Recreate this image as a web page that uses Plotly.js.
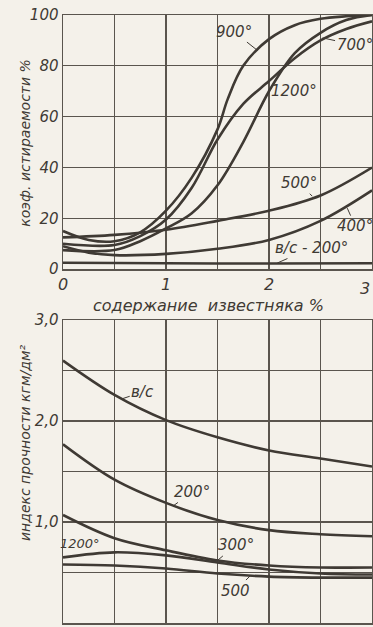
<!DOCTYPE html>
<html><head><meta charset="utf-8">
<script src="https://cdn.plot.ly/plotly-3.0.1.min.js"></script>
<style>html,body{margin:0;padding:0;background:#f4f1ea;}#chart{width:373px;height:627px;}</style>
</head><body><div id="chart"></div>
<script>
// ---- Top chart: abrasion coefficient, % vs limestone content, %
const topX900 = [0, 0.25, 0.5, 0.75, 1.0, 1.25, 1.5, 1.6, 1.75, 2.0, 2.25, 2.5, 2.75, 3.0];
const topY900 = [15, 11.5, 11, 14.5, 23, 36, 55, 67, 80, 90.5, 96, 98.5, 99.5, 100];
const topX700 = [0, 0.5, 0.75, 1.0, 1.25, 1.5, 1.75, 2.0, 2.25, 2.5, 2.75, 3.0];
const topY700 = [10, 9.5, 13, 19.5, 32, 51, 65, 74, 83, 90, 94.5, 97.5];
const topX1200 = [0, 0.5, 0.75, 1.0, 1.25, 1.5, 1.75, 2.0, 2.25, 2.5, 2.75, 3.0];
const topY1200 = [7.5, 7.5, 11, 16, 22, 33, 50, 70, 85, 93, 98, 100];
const topX500 = [0, 0.5, 1.0, 1.5, 2.0, 2.5, 3.0];
const topY500 = [12.5, 13.5, 15.5, 19, 23, 29, 40];
const topX400 = [0, 0.25, 0.5, 1.0, 1.5, 2.0, 2.5, 3.0];
const topY400 = [9, 6.5, 5.5, 6, 8, 11.5, 19, 31];
const topXvc = [0, 1, 2, 3];
const topYvc = [2.5, 2.3, 2.2, 2.3];

// ---- Bottom chart: strength index, kgm/dm2
const botX = [0, 0.5, 1.0, 1.5, 2.0, 2.5, 3.0];
const botYvc = [2.60, 2.26, 2.01, 1.84, 1.71, 1.63, 1.55];
const botY200 = [1.77, 1.42, 1.19, 1.02, 0.92, 0.88, 0.86];
const botY300 = [1.07, 0.84, 0.72, 0.62, 0.57, 0.55, 0.55];
const botY1200 = [0.65, 0.70, 0.67, 0.60, 0.53, 0.49, 0.48];
const botY500 = [0.58, 0.57, 0.54, 0.49, 0.46, 0.45, 0.45];

const xTickVals = [0, 0.5, 1, 1.5, 2, 2.5, 3];
const xTickText = ['0', '', '1', '', '2', '', '3'];
const topYTickVals = [0, 20, 40, 60, 80, 100];
const topYTickText = ['0', '20', '40', '60', '80', '100'];
const botYTickVals = [0, 0.5, 1, 1.5, 2, 2.5, 3];
const botYTickText = ['0,0', '', '1,0', '', '2,0', '', '3,0'];

const ink = '#3f3a34';
const gridC = '#5a554e';
const F = {family: 'DejaVu Sans', size: 15, color: ink, style: 'italic'};

function curve(x, y, xa, ya) {
  return {x: x, y: y, xaxis: xa, yaxis: ya, type: 'scatter', mode: 'lines',
    line: {color: ink, width: 2.6, shape: 'spline', smoothing: 1}, hoverinfo: 'skip', showlegend: false};
}

const data = [
  curve(topX900, topY900, 'x', 'y'),
  curve(topX700, topY700, 'x', 'y'),
  curve(topX1200, topY1200, 'x', 'y'),
  curve(topX500, topY500, 'x', 'y'),
  curve(topX400, topY400, 'x', 'y'),
  curve(topXvc, topYvc, 'x', 'y'),
  curve(botX, botYvc, 'x2', 'y2'),
  curve(botX, botY200, 'x2', 'y2'),
  curve(botX, botY300, 'x2', 'y2'),
  curve(botX, botY1200, 'x2', 'y2'),
  curve(botX, botY500, 'x2', 'y2')
];

function lab(text, x, y, ax, ay, xr, yr, size) {
  return {text: text, x: x, y: y, xref: xr, yref: yr, ax: ax, ay: ay,
    showarrow: true, arrowhead: 0, arrowwidth: 1, arrowcolor: ink, standoff: 0,
    font: {family: 'DejaVu Sans', size: size || 15, color: ink, style: 'italic'}};
}

const annotations = [
  lab('900°', 1.89, 86, -24, -19, 'x', 'y'),
  lab('700°', 2.52, 91, 32, 7, 'x', 'y'),
  lab('1200°', 1.99, 70, 26, 0, 'x', 'y'),
  lab('500°', 2.42, 28.7, -13, -13, 'x', 'y'),
  lab('400°', 2.76, 24, 8, 18, 'x', 'y'),
  lab('в/с - 200°', 2.08, 2.4, 34, -15, 'x', 'y'),
  lab('в/с', 0.57, 2.22, 21, -7, 'x2', 'y2'),
  lab('200°', 1.07, 1.16, 19, -14, 'x2', 'y2'),
  lab('300°', 1.5, 0.62, 18, -15, 'x2', 'y2'),
  lab('1200°', 0.36, 0.69, -20, -10, 'x2', 'y2', 13),
  lab('500', 1.82, 0.47, -15, 15, 'x2', 'y2'),
  {text: '3', xref: 'x', yref: 'paper', x: 3, y: 0.55, xanchor: 'right', yanchor: 'middle',
   showarrow: false, font: {family: 'DejaVu Sans', size: 16, color: ink, style: 'italic'}},
  {text: 'коэф. истираемости %', xref: 'paper', yref: 'paper', x: -0.123, y: 0.79,
   xanchor: 'center', yanchor: 'middle', textangle: -90, showarrow: false,
   font: {family: 'DejaVu Sans', size: 14, color: ink, style: 'italic'}},
  {text: 'индекс прочности кгм/дм²', xref: 'paper', yref: 'paper', x: -0.123, y: 0.296,
   xanchor: 'center', yanchor: 'middle', textangle: -90, showarrow: false,
   font: {family: 'DejaVu Sans', size: 14, color: ink, style: 'italic'}},
  {text: 'содержание  известняка %', xref: 'paper', yref: 'paper', x: 0.47, y: 0.522,
   xanchor: 'center', yanchor: 'middle', showarrow: false,
   font: {family: 'DejaVu Sans', size: 16, color: ink, style: 'italic'}}
];

const axBase = {showline: true, linecolor: gridC, linewidth: 1.5, mirror: true,
  showgrid: true, gridcolor: gridC, gridwidth: 1.3, zeroline: false, ticks: '',
  tickfont: F, fixedrange: true};

const layout = {
  width: 373, height: 627,
  margin: {l: 63, r: 1, t: 15, b: 4},
  paper_bgcolor: '#f4f1ea', plot_bgcolor: '#f4f1ea',
  showlegend: false,
  xaxis: Object.assign({}, axBase, {range: [0, 3], tickvals: xTickVals, ticktext: xTickText,
    anchor: 'y', ticklabelstandoff: 0, tickfont: {family: 'DejaVu Sans', size: 16, color: ink, style: 'italic'}}),
  yaxis: Object.assign({}, axBase, {range: [0, 100], domain: [0.582, 1], tickvals: topYTickVals,
    ticktext: topYTickText, anchor: 'x'}),
  xaxis2: Object.assign({}, axBase, {range: [0, 3], tickvals: xTickVals, ticktext: xTickText,
    anchor: 'y2', showticklabels: false}),
  yaxis2: Object.assign({}, axBase, {range: [0, 3], domain: [0, 0.498], tickvals: botYTickVals,
    ticktext: botYTickText, anchor: 'x2'}),
  annotations: annotations
};

Plotly.newPlot('chart', data, layout, {displayModeBar: false, staticPlot: true});
</script></body></html>
